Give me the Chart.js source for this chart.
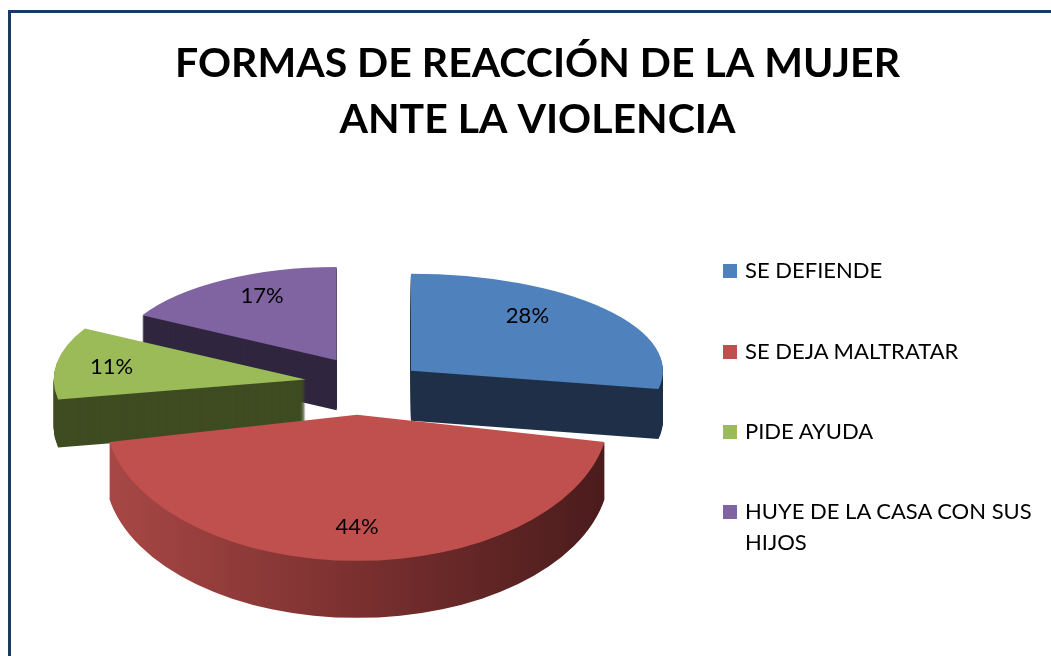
<!DOCTYPE html>
<html>
<head>
<meta charset="utf-8">
<script src="https://cdn.jsdelivr.net/npm/chart.js@4"></script>
<style>
    body { margin: 0; background: #fff; width: 1051px; height: 656px; overflow: hidden; position: relative; }
    #marco { position: absolute; left: 8px; top: 10px; right: -10px; bottom: -10px;
             border-top: 3px solid #1b3a62; border-left: 3px solid #1b3a62; }
    #grafico { position: absolute; left: 0; top: 0; }
    #leyenda { position: absolute; left: 723px; top: 0; font-family: Lato, sans-serif; font-size: 22px; color: #000; }
    .item { position: absolute; left: 0; width: 330px; line-height: 31px; padding-left: 22px; white-space: normal; }
    .item span { position: absolute; left: 0; top: 10px; width: 14px; height: 14px; }
</style>
</head>
<body>
<div id="marco"></div>
<canvas id="grafico" width="1051" height="656"></canvas>
<div id="leyenda"></div>
<script>
// Datos del gráfico
const categorias = ['SE DEFIENDE', 'SE DEJA MALTRATAR', 'PIDE AYUDA', 'HUYE DE LA CASA CON SUS HIJOS'];
const porcentajes = [28, 44, 11, 17];
const coloresCara = ['#4f81bd', '#c0504d', '#9bbb59', '#8064a2'];
const coloresLado = ['#1f3048', null, '#3f4c22', '#30263f'];
const tituloLineas = ['FORMAS DE REACCIÓN DE LA MUJER', 'ANTE LA VIOLENCIA'];
const leyendaY = [254, 335, 415, 495];

// Efecto 3D: cada porción se achata, se separa y se extruye hacia abajo
const pie3d = {
    id: 'pie3d',
    beforeDatasetsDraw(chart, args, opts) {
        const ctx = chart.ctx;
        const arcs = chart.getDatasetMeta(0).data;

        const colocar = (arc, i, d) => {
            const h = (arc.startAngle + arc.endAngle) / 2;
            const ex = opts.separacion[i];
            ctx.translate(opts.centro.x + Math.cos(h) * ex,
                          opts.centro.y + opts.elevar[i] + opts.achatar[i] * Math.sin(h) * ex + d);
            ctx.scale(opts.escalaX[i], opts.achatar[i]);
            ctx.translate(-arc.x, -arc.y);
        };

        opts.orden.forEach(i => {
            const arc = arcs[i];
            let lado = coloresLado[i];
            if (!lado) {
                const r = arc.outerRadius;
                lado = ctx.createLinearGradient(arc.x - r, 0, arc.x + r, 0);
                lado.addColorStop(0, '#a84846');
                lado.addColorStop(0.5, '#7a302f');
                lado.addColorStop(1, '#4a1b1c');
            }
            for (let d = opts.profundidad[i]; d >= 0; d--) {
                ctx.save();
                colocar(arc, i, d);
                const copia = Object.create(arc);
                copia.options = Object.assign({}, arc.options, {
                    backgroundColor: d === 0 ? arc.options.backgroundColor : lado
                });
                copia.draw(ctx);
                ctx.restore();
            }
        });

        // Etiquetas de porcentaje
        ctx.save();
        ctx.font = '22px Lato, sans-serif';
        ctx.fillStyle = '#000';
        ctx.textAlign = 'center';
        ctx.textBaseline = 'middle';
        arcs.forEach((arc, i) => {
            const h = (arc.startAngle + arc.endAngle) / 2;
            const ex = opts.separacion[i];
            const rr = arc.outerRadius * opts.etiquetaR[i];
            const x = opts.centro.x + Math.cos(h) * (ex + rr * opts.escalaX[i]);
            const y = opts.centro.y + opts.elevar[i] + opts.achatar[i] * Math.sin(h) * (ex + rr) + opts.etiquetaDy[i];
            ctx.fillText(chart.data.datasets[0].data[i] + '%', x, y);
        });
        ctx.restore();
        return false;
    }
};

const ctx = document.getElementById('grafico').getContext('2d');
new Chart(ctx, {
    type: 'pie',
    data: {
        labels: categorias,
        datasets: [{
            data: porcentajes,
            backgroundColor: coloresCara,
            borderWidth: 0,
            radius: 252
        }]
    },
    options: {
        responsive: false,
        animation: false,
        events: [],
        layout: { padding: { left: 24 } },
        plugins: {
            legend: { display: false },
            tooltip: { enabled: false },
            title: {
                display: true,
                text: tituloLineas,
                color: '#000',
                font: { family: 'Lato', size: 41, weight: 'bold', lineHeight: 1.366 },
                padding: { top: 36, bottom: 10 }
            },
            pie3d: {
                centro: { x: 357, y: 388 },
                orden: [3, 0, 2, 1],
                separacion: [70, 46, 52, 40],
                achatar: [0.385, 0.58, 0.42, 0.37],
                escalaX: [1, 1, 1, 0.88],
                elevar: [0, 0, -5, -15],
                profundidad: [50, 57, 48, 50],
                etiquetaR: [0.6, 0.77, 0.78, 0.66],
                etiquetaDy: [-18, 0, 0, -11]
            }
        }
    },
    plugins: [pie3d]
});

// Leyenda
const leyenda = document.getElementById('leyenda');
categorias.forEach((nombre, i) => {
    const item = document.createElement('div');
    item.className = 'item';
    item.style.top = leyendaY[i] + 'px';
    item.innerHTML = `<span style="background:${coloresCara[i]}"></span>${nombre}`;
    leyenda.appendChild(item);
});
</script>
</body>
</html>
